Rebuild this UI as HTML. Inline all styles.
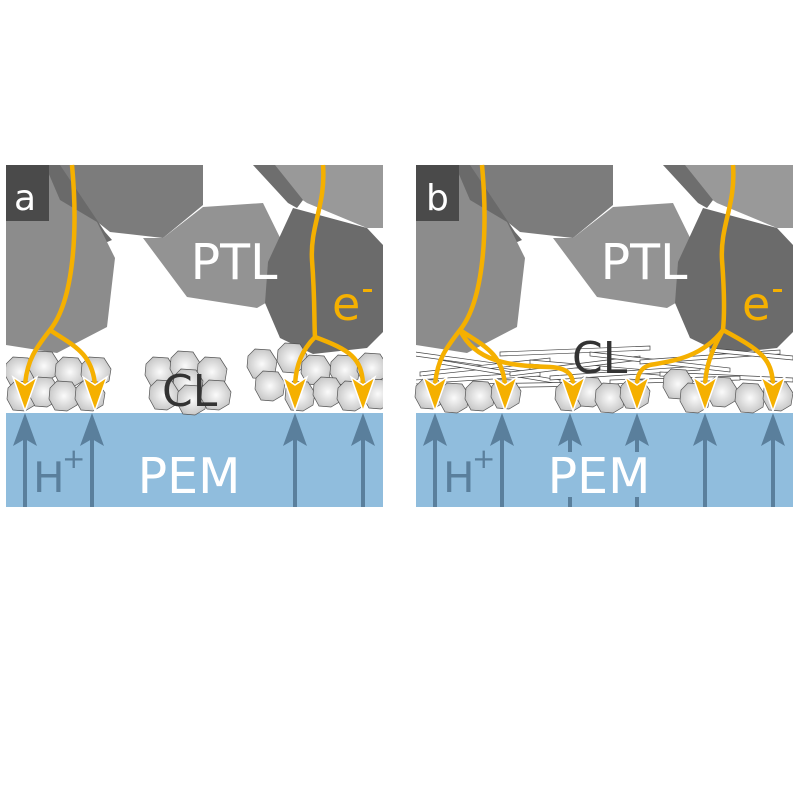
<!DOCTYPE html>
<html><head><meta charset="utf-8"><style>
html,body{margin:0;padding:0;background:#fff}
svg{display:block}
text{font-family:"DejaVu Sans","Liberation Sans",sans-serif}
</style></head><body>
<svg width="800" height="800" viewBox="0 0 800 800" xmlns="http://www.w3.org/2000/svg">
<defs>
<radialGradient id="pg" cx="0.5" cy="0.5" r="0.55">
<stop offset="0" stop-color="#fbfbfb"/><stop offset="1" stop-color="#c4c4c4"/>
</radialGradient>
<polygon id="hx" points="-7,-15 8,-14 15,-3 13,9 3,15 -9,14 -15,3 -14,-8" fill="url(#pg)" stroke="#555" stroke-width="0.7"/>
<clipPath id="cp"><rect x="6" y="165" width="377" height="342"/></clipPath>
<g id="ptl">
<rect x="6" y="165" width="377" height="248" fill="#fff"/>
<polygon points="253,165 383,165 383,228 367,228 307,203 277,183" fill="#999"/>
<polygon points="253,165 275,165 303,200 297,208 288,203" fill="#6e6e6e"/>
<polygon points="57,165 203,165 203,205 163,238 110,232 70,200" fill="#7c7c7c"/>
<polygon points="45,165 60,165 105,232 112,240 100,245 60,205" fill="#6a6a6a"/>
<polygon points="6,165 45,165 60,200 97,222 115,258 107,327 57,353 6,345" fill="#8c8c8c"/>
<polygon points="143,238 163,238 203,207 263,203 290,258 288,290 257,308 187,297" fill="#939393"/>
<polygon points="293,208 367,228 383,245 383,332 367,348 313,354 280,338 265,303 268,262" fill="#6b6b6b"/>
<rect x="6" y="165" width="43" height="56" fill="#4a4a4a"/>
<text x="234" y="279" font-size="49" fill="#fff" text-anchor="middle">PTL</text>
<text x="332" y="320" font-size="46" fill="#f5b000">e</text>
<rect x="363" y="289" width="9" height="3" fill="#f5b000"/>
</g>
<g id="pem">
<rect x="6" y="413" width="377" height="94" fill="#90bddd"/>
<text x="189" y="493" font-size="49" fill="#fff" text-anchor="middle">PEM</text>
<text x="33" y="492" font-size="42" fill="#5a7f9c">H</text>
<text x="62" y="468" font-size="28" fill="#5a7f9c">+</text>
</g>
<g id="ba"><line x1="0" y1="507" x2="0" y2="436" stroke="#5a7f9c" stroke-width="4"/><polygon points="0,413 -12,446 0,439 12,446" fill="#5a7f9c"/></g>
<g id="bb"><line x1="0" y1="452" x2="0" y2="436" stroke="#5a7f9c" stroke-width="4"/><line x1="0" y1="497" x2="0" y2="507" stroke="#5a7f9c" stroke-width="4"/><polygon points="0,413 -12,446 0,439 12,446" fill="#5a7f9c"/></g>
<g id="oh"><polygon points="0,411 -12,377 0,385 12,377" fill="#f5b000" stroke="#fff" stroke-width="1.5"/></g>
</defs>

<!-- Panel a -->
<g clip-path="url(#cp)">
<use href="#ptl"/>
<use href="#pem"/>
</g>
<g>
<use href="#hx" x="20" y="372"/>
<use href="#hx" x="44" y="366"/>
<use href="#hx" x="70" y="372"/>
<use href="#hx" x="96" y="372"/>
<use href="#hx" x="22" y="396"/>
<use href="#hx" x="44" y="392"/>
<use href="#hx" x="64" y="396"/>
<use href="#hx" x="90" y="396"/>
<use href="#hx" x="160" y="372"/>
<use href="#hx" x="185" y="366"/>
<use href="#hx" x="212" y="372"/>
<use href="#hx" x="188" y="384"/>
<use href="#hx" x="164" y="395"/>
<use href="#hx" x="192" y="400"/>
<use href="#hx" x="216" y="395"/>
<use href="#hx" x="262" y="364"/>
<use href="#hx" x="292" y="358"/>
<use href="#hx" x="316" y="370"/>
<use href="#hx" x="345" y="370"/>
<use href="#hx" x="372" y="368"/>
<use href="#hx" x="270" y="386"/>
<use href="#hx" x="300" y="396"/>
<use href="#hx" x="328" y="392"/>
<use href="#hx" x="352" y="396"/>
<use href="#hx" x="378" y="394"/>
</g>
<rect x="383" y="340" width="25" height="73" fill="#fff"/>
<rect x="0" y="340" width="6" height="73" fill="#fff"/>
<text x="162" y="406" font-size="44" fill="#333">CL</text>
<g fill="none" stroke="#f5b000" stroke-width="4.5">
<path d="M72,165 C78,230 74,300 50,330 C36,348 27,360 25,385"/>
<path d="M50,330 C72,345 92,352 95,385"/>
<path d="M323,165 C326,205 310,225 312,260 C315,300 314,320 315,337 C302,350 296,365 295,385"/>
<path d="M315,337 C350,350 362,358 363,385"/>
</g>
<use href="#oh" x="25"/><use href="#oh" x="95"/><use href="#oh" x="295"/><use href="#oh" x="363"/>
<use href="#ba" x="25"/><use href="#ba" x="92"/><use href="#ba" x="295"/><use href="#ba" x="363"/>

<!-- Panel b -->
<g transform="translate(410,0)">
<g clip-path="url(#cp)">
<use href="#ptl"/>
<use href="#pem"/>
<g fill="#fff" stroke="#444" stroke-width="0.7">
<polygon points="5,352 120,368 120,372 5,356"/>
<polygon points="10,372 140,358 140,362 10,376"/>
<polygon points="30,360 150,380 150,384 30,364"/>
<polygon points="5,380 130,372 130,376 5,384"/>
<polygon points="90,352 240,346 240,350 90,356"/>
<polygon points="120,360 260,372 260,376 120,364"/>
<polygon points="140,376 290,366 290,370 140,380"/>
<polygon points="100,372 230,356 230,360 100,376"/>
<polygon points="180,352 320,368 320,372 180,356"/>
<polygon points="230,360 370,350 370,354 230,364"/>
<polygon points="250,372 383,378 383,382 250,376"/>
<polygon points="300,348 383,356 383,360 300,352"/>
<polygon points="200,380 330,376 330,380 200,384"/>
<polygon points="60,384 180,382 180,386 60,388"/>
</g>
</g>
<g>
<use href="#hx" x="20" y="394"/>
<use href="#hx" x="44" y="398"/>
<use href="#hx" x="70" y="396"/>
<use href="#hx" x="96" y="394"/>
<use href="#hx" x="160" y="396"/>
<use href="#hx" x="180" y="392"/>
<use href="#hx" x="200" y="398"/>
<use href="#hx" x="225" y="394"/>
<use href="#hx" x="268" y="384"/>
<use href="#hx" x="285" y="398"/>
<use href="#hx" x="312" y="392"/>
<use href="#hx" x="340" y="398"/>
<use href="#hx" x="368" y="396"/>
</g>
<rect x="383" y="340" width="20" height="73" fill="#fff"/>
<text x="162" y="373" font-size="44" fill="#333">CL</text>
<g fill="none" stroke="#f5b000" stroke-width="4.5">
<path d="M72,165 C78,230 74,300 50,330 C36,348 27,360 25,385"/>
<path d="M50,330 C72,345 92,352 95,385"/>
<path d="M50,330 C65,362 100,366 140,367 C158,368 163,375 163,385"/>
<path d="M323,165 C326,205 310,225 312,260 C315,300 314,320 313,330 C302,350 296,365 295,385"/>
<path d="M313,330 C350,350 362,358 363,385"/>
<path d="M313,330 C290,360 255,362 240,365 C229,368 227,378 227,385"/>
</g>
<use href="#oh" x="25"/><use href="#oh" x="95"/><use href="#oh" x="163"/><use href="#oh" x="227"/><use href="#oh" x="295"/><use href="#oh" x="363"/>
<use href="#ba" x="25"/><use href="#ba" x="92"/><use href="#bb" x="160"/><use href="#bb" x="227"/><use href="#ba" x="295"/><use href="#ba" x="363"/>
<text x="16" y="210" font-size="36" fill="#fff">b</text>
</g>
<text x="14" y="210" font-size="36" fill="#fff">a</text>
</svg>
</body></html>
